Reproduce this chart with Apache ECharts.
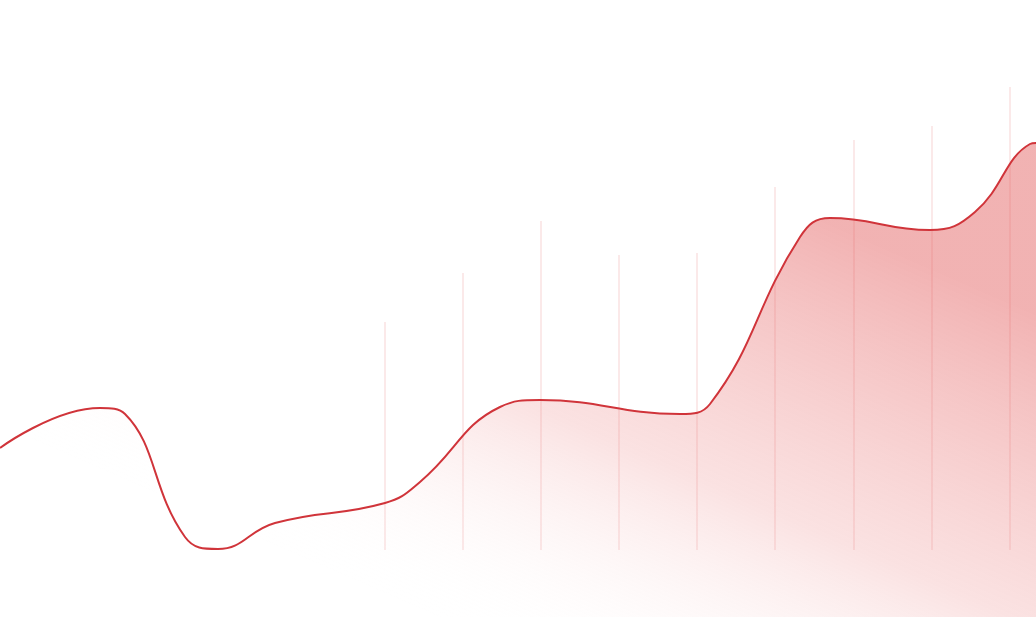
<!DOCTYPE html>
<html><head><meta charset="utf-8">
<script src="https://cdn.jsdelivr.net/npm/echarts@6/dist/echarts.min.js"></script>
<style>html,body{margin:0;padding:0;background:#fff}#c{width:1036px;height:617px}</style>
</head><body><div id="c"></div>
<script>
const lineX = [0, 100, 125, 185, 218, 275, 385, 420, 500, 540, 680, 710, 800, 830, 930, 975, 1030, 1036];
const lineY = [169, 209, 203, 80, 68, 94, 114, 135, 210, 217, 203, 213, 380, 399, 387, 405, 473, 474];
const barX = [385, 463, 541, 619, 697, 775, 854, 932, 1010];
const barBase = [67, 67, 67, 67, 67, 67, 67, 67, 67];
const barTop = [295, 344, 396, 362, 364, 430, 477, 491, 530];

const chart = echarts.init(document.getElementById('c'));
chart.setOption({
  animation: false,
  grid: {left: 0, right: 0, top: 0, bottom: 0},
  xAxis: {type: 'value', min: 0, max: 1036, show: false},
  yAxis: {type: 'value', min: 0, max: 617, show: false},
  series: [
    {type: 'custom', silent: true, z: 1,
     data: barX.map((x, i) => [x, barBase[i], barTop[i]]),
     renderItem: function (params, api) {
       const a = api.coord([api.value(0), api.value(1)]);
       const b = api.coord([api.value(0), api.value(2)]);
       return {type: 'line', shape: {x1: a[0], y1: a[1], x2: b[0], y2: b[1]},
               style: {stroke: 'rgba(225,110,110,0.3)', lineWidth: 1}};
     }},
    {type: 'line', smooth: 0.45, symbol: 'none', z: 3,
     lineStyle: {color: '#d0343a', width: 2},
     areaStyle: {origin: 'start', color: new echarts.graphic.LinearGradient(0.62, 0, 0.42, 1, [
       {offset: 0, color: 'rgba(225,80,80,0.62)'},
       {offset: 0.55, color: 'rgba(235,125,125,0.32)'},
       {offset: 1, color: 'rgba(255,255,255,0)'}
     ])},
     data: lineX.map((x, i) => [x, lineY[i]])}
  ]
});
</script></body></html>
